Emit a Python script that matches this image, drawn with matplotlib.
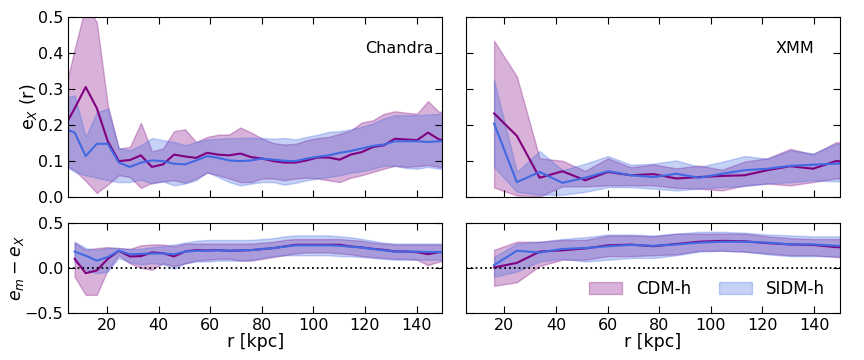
import numpy as np
import matplotlib
matplotlib.use('Agg')
import matplotlib.pyplot as plt

# radial grids (kpc)
r_chandra = 3.2 + 4.28 * np.arange(36)
r_xmm = 16.0 + 8.83 * np.arange(17)

# Chandra, e_X(r)
cdm_ch = [0.19, 0.246, 0.305, 0.247, 0.155, 0.100, 0.103, 0.116, 0.084, 0.091, 0.118, 0.113,
          0.109, 0.123, 0.118, 0.116, 0.121, 0.111, 0.107, 0.100, 0.096, 0.096, 0.102, 0.110,
          0.110, 0.104, 0.118, 0.125, 0.139, 0.144, 0.162, 0.160, 0.158, 0.179, 0.160, 0.156]
cdm_ch_hi = [0.28, 0.41, 0.53, 0.485, 0.255, 0.135, 0.139, 0.206, 0.127, 0.135, 0.183, 0.188,
             0.153, 0.167, 0.173, 0.174, 0.193, 0.179, 0.162, 0.150, 0.146, 0.148, 0.158, 0.164,
             0.167, 0.176, 0.185, 0.207, 0.213, 0.231, 0.238, 0.234, 0.231, 0.266, 0.236, 0.24]
cdm_ch_lo = [0.09, 0.075, 0.045, 0.012, 0.035, 0.061, 0.056, 0.026, 0.040, 0.044, 0.047, 0.040,
             0.052, 0.068, 0.061, 0.052, 0.042, 0.042, 0.052, 0.052, 0.047, 0.052, 0.054, 0.052,
             0.047, 0.042, 0.054, 0.061, 0.070, 0.079, 0.087, 0.084, 0.086, 0.089, 0.084, 0.082]
sidm_ch = [0.19, 0.179, 0.114, 0.148, 0.148, 0.096, 0.084, 0.096, 0.102, 0.100, 0.093, 0.091,
           0.102, 0.114, 0.109, 0.102, 0.100, 0.102, 0.107, 0.104, 0.101, 0.100, 0.107, 0.112,
           0.116, 0.123, 0.128, 0.135, 0.142, 0.146, 0.155, 0.155, 0.155, 0.153, 0.155, 0.157]
sidm_ch_hi = [0.275, 0.282, 0.167, 0.235, 0.245, 0.136, 0.130, 0.144, 0.164, 0.158, 0.153, 0.144,
              0.153, 0.160, 0.162, 0.164, 0.164, 0.165, 0.164, 0.162, 0.164, 0.160, 0.167, 0.173,
              0.181, 0.183, 0.188, 0.195, 0.204, 0.218, 0.227, 0.227, 0.227, 0.229, 0.231, 0.232]
sidm_ch_lo = [0.09, 0.070, 0.061, 0.054, 0.047, 0.042, 0.042, 0.049, 0.038, 0.044, 0.033, 0.038,
              0.047, 0.070, 0.056, 0.042, 0.033, 0.038, 0.042, 0.042, 0.035, 0.040, 0.047, 0.052,
              0.056, 0.061, 0.068, 0.072, 0.079, 0.087, 0.087, 0.081, 0.079, 0.084, 0.079, 0.078]

# Chandra, e_m - e_X (starts at the second grid point)
cdm_ch_d = [0.100, -0.059, -0.029, 0.100, 0.189, 0.127, 0.130, 0.171, 0.163, 0.127, 0.182, 0.197,
            0.193, 0.197, 0.189, 0.193, 0.197, 0.208, 0.219, 0.238, 0.256, 0.256, 0.256, 0.256,
            0.256, 0.238, 0.227, 0.211, 0.200, 0.182, 0.182, 0.174, 0.152, 0.174, 0.171]
cdm_ch_d_hi = [0.28, 0.20, 0.22, 0.23, 0.22, 0.21, 0.25, 0.26, 0.26, 0.24, 0.27, 0.27,
               0.27, 0.27, 0.27, 0.27, 0.27, 0.28, 0.29, 0.31, 0.32, 0.32, 0.32, 0.32,
               0.32, 0.31, 0.30, 0.28, 0.27, 0.26, 0.26, 0.26, 0.26, 0.26, 0.26]
cdm_ch_d_lo = [-0.10, -0.30, -0.30, -0.02, 0.14, 0.05, 0.00, -0.02, 0.05, 0.02, 0.05, 0.08,
               0.09, 0.10, 0.10, 0.08, 0.08, 0.10, 0.12, 0.14, 0.16, 0.17, 0.17, 0.17,
               0.16, 0.15, 0.13, 0.12, 0.11, 0.10, 0.10, 0.09, 0.03, 0.07, 0.08]
sidm_ch_d = [0.18, 0.135, 0.08, 0.12, 0.19, 0.15, 0.155, 0.16, 0.16, 0.15, 0.18, 0.19,
             0.19, 0.195, 0.19, 0.195, 0.197, 0.21, 0.22, 0.235, 0.25, 0.25, 0.25, 0.25,
             0.245, 0.235, 0.225, 0.21, 0.195, 0.18, 0.18, 0.18, 0.175, 0.175, 0.18]
sidm_ch_d_hi = [0.29, 0.22, 0.20, 0.22, 0.22, 0.21, 0.21, 0.23, 0.24, 0.26, 0.28, 0.30,
                0.31, 0.31, 0.31, 0.31, 0.31, 0.32, 0.33, 0.35, 0.36, 0.36, 0.36, 0.36,
                0.35, 0.34, 0.32, 0.30, 0.28, 0.27, 0.27, 0.27, 0.27, 0.27, 0.27]
sidm_ch_d_lo = [0.07, -0.02, -0.06, -0.04, 0.11, 0.06, 0.04, 0.05, 0.04, -0.01, 0.05, 0.07,
                0.07, 0.08, 0.08, 0.08, 0.09, 0.11, 0.13, 0.14, 0.14, 0.14, 0.14, 0.14,
                0.13, 0.13, 0.12, 0.11, 0.10, 0.09, 0.09, 0.09, 0.09, 0.09, 0.09]

# XMM, e_X(r)
cdm_xmm = [0.232, 0.170, 0.054, 0.072, 0.047, 0.070, 0.061, 0.064, 0.052, 0.056, 0.059, 0.061,
           0.075, 0.086, 0.079, 0.100, 0.098]
cdm_xmm_hi = [0.433, 0.334, 0.108, 0.101, 0.073, 0.108, 0.083, 0.091, 0.080, 0.088, 0.076, 0.099,
              0.108, 0.134, 0.119, 0.152, 0.153]
cdm_xmm_lo = [0.027, 0.005, 0.002, 0.030, 0.030, 0.033, 0.033, 0.033, 0.026, 0.024, 0.019, 0.033,
              0.038, 0.033, 0.042, 0.052, 0.052]
sidm_xmm = [0.204, 0.042, 0.070, 0.040, 0.054, 0.072, 0.061, 0.056, 0.065, 0.054, 0.065, 0.075,
            0.079, 0.087, 0.090, 0.093, 0.095]
sidm_xmm_hi = [0.324, 0.070, 0.128, 0.075, 0.093, 0.114, 0.090, 0.093, 0.102, 0.084, 0.098, 0.114,
               0.107, 0.130, 0.121, 0.148, 0.150]
sidm_xmm_lo = [0.084, 0.015, 0.007, 0.007, 0.015, 0.028, 0.028, 0.024, 0.019, 0.024, 0.028, 0.031,
               0.038, 0.042, 0.047, 0.044, 0.044]

# XMM, e_m - e_X
cdm_xmm_d = [0.004, 0.055, 0.18, 0.195, 0.215, 0.25, 0.258, 0.24, 0.265, 0.29, 0.30, 0.295,
             0.275, 0.26, 0.255, 0.23, 0.225]
cdm_xmm_d_hi = [0.20, 0.29, 0.29, 0.31, 0.31, 0.36, 0.36, 0.35, 0.38, 0.38, 0.38, 0.38,
                0.35, 0.33, 0.32, 0.32, 0.32]
cdm_xmm_d_lo = [-0.20, -0.16, 0.02, 0.09, 0.09, 0.13, 0.13, 0.14, 0.15, 0.19, 0.19, 0.18,
                0.16, 0.14, 0.14, 0.12, 0.11]
sidm_xmm_d = [0.03, 0.19, 0.17, 0.21, 0.22, 0.24, 0.255, 0.245, 0.26, 0.28, 0.29, 0.29,
              0.28, 0.26, 0.26, 0.245, 0.24]
sidm_xmm_d_hi = [0.12, 0.27, 0.29, 0.32, 0.34, 0.37, 0.37, 0.36, 0.38, 0.40, 0.40, 0.39,
                 0.37, 0.36, 0.35, 0.35, 0.35]
sidm_xmm_d_lo = [-0.10, -0.04, 0.07, 0.10, 0.07, 0.09, 0.11, 0.11, 0.14, 0.18, 0.19, 0.18,
                 0.15, 0.13, 0.13, 0.13, 0.13]

CDM_C = 'purple'
SIDM_C = 'royalblue'


def panel(ax, r, m1, lo1, hi1, m2, lo2, hi2):
    ax.fill_between(r, lo1, hi1, color=CDM_C, alpha=0.3, label='CDM-h')
    ax.fill_between(r, lo2, hi2, color=SIDM_C, alpha=0.3, label='SIDM-h')
    ax.plot(r, m1, color=CDM_C, lw=1.5)
    ax.plot(r, m2, color=SIDM_C, lw=1.5)
    ax.set_xlim(5, 150)
    ax.set_xticks(np.arange(20, 141, 20))
    ax.tick_params(direction='in', top=True, right=True, labelsize=11.5, length=5)


fig = plt.figure(figsize=(8.64, 3.6), dpi=100)
ax1 = fig.add_axes([0.079, 0.452, 0.433, 0.502])
ax2 = fig.add_axes([0.539, 0.452, 0.433, 0.502])
ax3 = fig.add_axes([0.079, 0.131, 0.433, 0.25])
ax4 = fig.add_axes([0.539, 0.131, 0.433, 0.25])

panel(ax1, r_chandra, cdm_ch, cdm_ch_lo, cdm_ch_hi, sidm_ch, sidm_ch_lo, sidm_ch_hi)
panel(ax2, r_xmm, cdm_xmm, cdm_xmm_lo, cdm_xmm_hi, sidm_xmm, sidm_xmm_lo, sidm_xmm_hi)
panel(ax3, r_chandra[1:], cdm_ch_d, cdm_ch_d_lo, cdm_ch_d_hi, sidm_ch_d, sidm_ch_d_lo, sidm_ch_d_hi)
panel(ax4, r_xmm, cdm_xmm_d, cdm_xmm_d_lo, cdm_xmm_d_hi, sidm_xmm_d, sidm_xmm_d_lo, sidm_xmm_d_hi)

for ax in (ax1, ax2):
    ax.set_ylim(0, 0.5)
    ax.set_yticks(np.arange(0, 0.51, 0.1))
    ax.tick_params(labelbottom=False)
for ax in (ax3, ax4):
    ax.set_ylim(-0.5, 0.5)
    ax.set_yticks([-0.5, 0, 0.5])
    ax.axhline(0, color='k', ls=':', lw=1.3)
    ax.set_xlabel('r [kpc]', fontsize=12.5, labelpad=0)
ax2.tick_params(labelleft=False)
ax4.tick_params(labelleft=False)

ax1.set_ylabel('e$_X$ (r)', fontsize=12.5, labelpad=-1)
ax3.set_ylabel(r'$e_m - e_X$', fontsize=12.5, labelpad=-1)
ax1.text(120, 0.4, 'Chandra', fontsize=11.5)
ax2.text(125, 0.4, 'XMM', fontsize=11.5)

ax4.legend(loc='lower right', ncol=2, frameon=False, fontsize=12, columnspacing=1.7)

fig.savefig('out.png', dpi=100)
